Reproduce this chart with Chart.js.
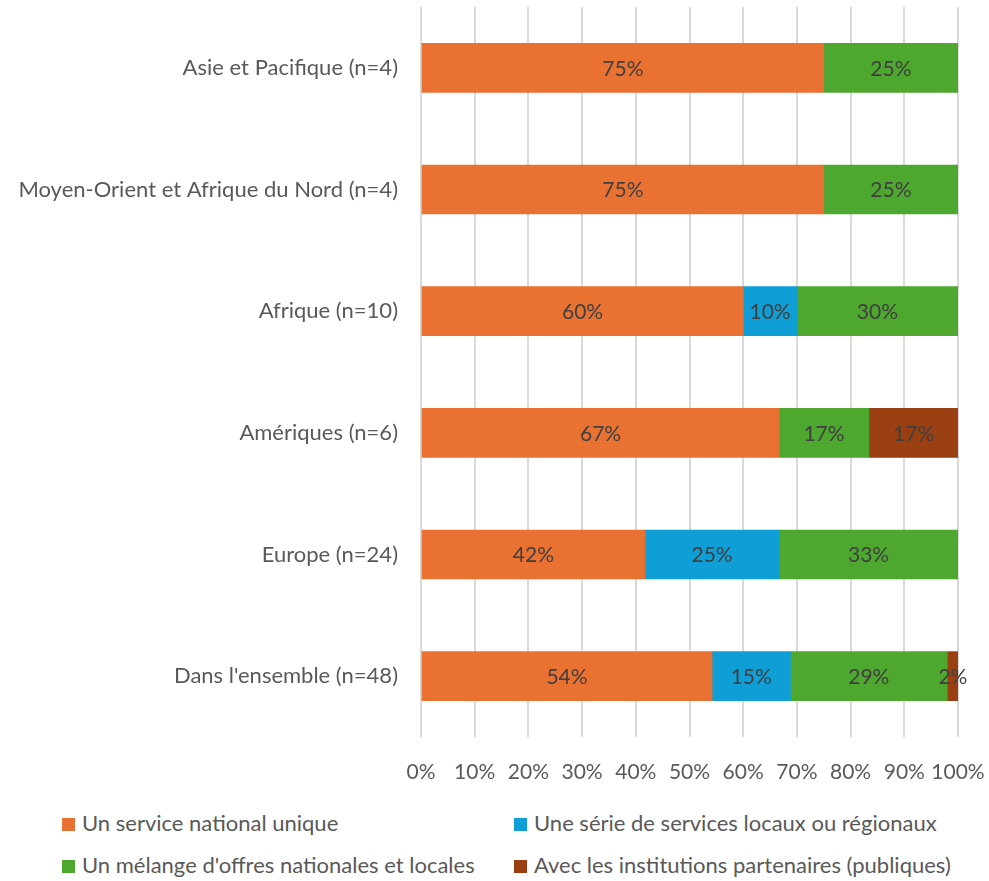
<!DOCTYPE html>
<html>
<head>
<meta charset="utf-8">
<script src="https://cdn.jsdelivr.net/npm/chart.js@4"></script>
<style>
  html, body { margin: 0; padding: 0; background: #fff; }
  #wrap { position: relative; width: 989px; height: 881px; }
  #chartBox { position: absolute; left: 0; top: 0; width: 989px; height: 800px; }
  .legend { position: absolute; font-family: Lato, sans-serif; font-size: 22px; line-height: 26px; color: #595959; white-space: nowrap; }
  .legend span.box { display: inline-block; width: 13px; height: 13px; margin-right: 7px; vertical-align: 0px; }
</style>
</head>
<body>
<div id="wrap">
  <div id="chartBox"><canvas id="barChart"></canvas></div>
  <div id="legendBox"></div>
</div>
<script>
const categories = [
  'Asie et Pacifique (n=4)',
  'Moyen-Orient et Afrique du Nord (n=4)',
  'Afrique (n=10)',
  'Amériques (n=6)',
  'Europe (n=24)',
  "Dans l'ensemble (n=48)"
];
const seriesNames = [
  'Un service national unique',
  'Une série de services locaux ou régionaux',
  "Un mélange d'offres nationales et locales",
  'Avec les institutions partenaires (publiques)'
];
const national = [75, 75, 60, 66.7, 41.7, 54.2];
const local = [0, 0, 10, 0, 25, 14.6];
const mixed = [25, 25, 30, 16.7, 33.3, 29.2];
const partners = [0, 0, 0, 16.7, 0, 2.1];
const tickValues = [0, 10, 20, 30, 40, 50, 60, 70, 80, 90, 100];
const colors = ['#E97132', '#0F9ED5', '#4EA72E', '#9A3F12'];

const FONT = 'Lato, sans-serif';

// draws the % labels in the middle of each segment
const barLabels = {
  id: 'barLabels',
  afterDatasetsDraw(chart) {
    const ctx = chart.ctx;
    ctx.save();
    ctx.font = '21px ' + FONT;
    ctx.fillStyle = '#404040';
    ctx.textAlign = 'center';
    ctx.textBaseline = 'middle';
    chart.data.datasets.forEach((ds, i) => {
      const meta = chart.getDatasetMeta(i);
      meta.data.forEach((bar, j) => {
        const v = ds.data[j];
        if (!v) return;
        ctx.fillText(Math.round(v) + '%', (bar.x + bar.base) / 2, bar.y + 1);
      });
    });
    ctx.restore();
  }
};

const seriesData = [national, local, mixed, partners];

const ctx = document.getElementById('barChart').getContext('2d');
const myChart = new Chart(ctx, {
  type: 'bar',
  data: {
    labels: categories,
    datasets: seriesNames.map((name, i) => ({
      label: name,
      data: seriesData[i],
      backgroundColor: colors[i],
      borderWidth: 0,
      barThickness: 49
    }))
  },
  options: {
    indexAxis: 'y',
    responsive: true,
    maintainAspectRatio: false,
    animation: false,
    layout: { padding: { top: 7, right: 31, left: 0, bottom: 0 } },
    plugins: {
      legend: { display: false },
      tooltip: { enabled: false }
    },
    scales: {
      x: {
        stacked: true,
        min: 0,
        max: 100,
        afterBuildTicks: (axis) => { axis.ticks = tickValues.map(v => ({ value: v })); },
        grid: { color: '#d9d9d9', lineWidth: 2, drawTicks: false },
        border: { display: false },
        ticks: {
          padding: 23,
          color: '#595959',
          maxRotation: 0,
          minRotation: 0,
          autoSkip: false,
          font: { family: FONT, size: 21 },
          callback: (v) => v + '%'
        },
        afterFit: (axis) => {
          axis.height = 63;
          axis.paddingLeft = 0;
          axis.paddingRight = 0;
        }
      },
      y: {
        stacked: true,
        grid: { display: false, drawTicks: false },
        border: { display: false },
        ticks: {
          padding: 23,
          color: '#595959',
          font: { family: FONT, size: 22 }
        },
        afterFit: (axis) => {
          axis.width = 421;
          axis.paddingTop = 0;
          axis.paddingBottom = 0;
        }
      }
    }
  },
  plugins: [barLabels]
});

// legend in two columns like the original
const legendPos = [[62, 810], [514, 810], [62, 852], [514, 852]];
const legendBox = document.getElementById('legendBox');
seriesNames.forEach((name, i) => {
  const d = document.createElement('div');
  d.className = 'legend';
  d.style.left = legendPos[i][0] + 'px';
  d.style.top = legendPos[i][1] + 'px';
  d.innerHTML = '<span class="box" style="background:' + colors[i] + '"></span>';
  d.appendChild(document.createTextNode(name));
  legendBox.appendChild(d);
});
</script>
</body>
</html>
